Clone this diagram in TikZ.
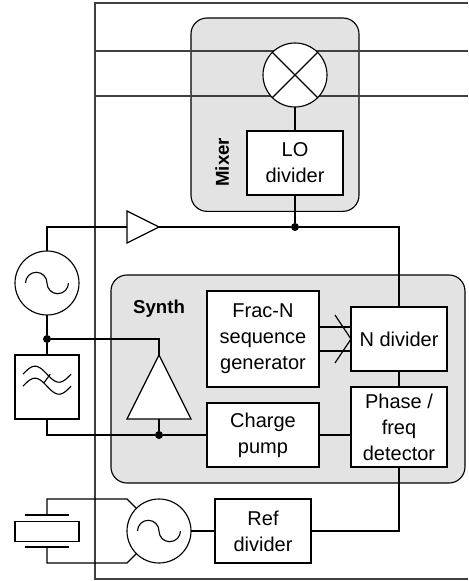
\documentclass[tikz,border=0pt]{standalone}
\usepackage{fontspec}
\setmainfont{Liberation Sans}
\usetikzlibrary{positioning}

\newcommand{\sinewave}[1]{\draw[wire] (#1) ++(-1.34,0) arc[start angle=180, end angle=360, radius=0.67] arc[start angle=180, end angle=0, radius=0.67];}

\begin{document}
\begin{tikzpicture}[
    x=12pt, y=-12pt,
    wire/.style={line width=0.85pt},
    rail/.style={line width=1.1pt, black!75},
    box/.style={draw, wire, fill=white, inner sep=0pt, outer sep=0pt, align=center, font=\fontsize{15}{19.5}\selectfont},
    group/.style={draw, wire, fill=black!11, rounded corners=12pt, inner sep=0pt, outer sep=0pt},
    round/.style={draw, wire, circle, fill=white, minimum size=48pt, inner sep=0pt, outer sep=0pt},
    lbl/.style={font=\fontsize{14}{16}\selectfont\bfseries},
    dot/.style={circle, fill=black, minimum size=6pt, inner sep=0pt},
]
\useasboundingbox (0.0625,-0.1875) rectangle (29.3125,36.125);

% Groups
\node[group, minimum width=126pt, minimum height=145pt] (mixergroup) at (17.25,6.98) {};
\node[group, minimum width=265.5pt, minimum height=156pt] (synthgroup) at (18.06,23.5) {};

% Chip outline and RF lines
\coordinate (topright) at (29.3125,0);
\coordinate (botright) at (29.3125,36);
\coordinate (rfa) at (6,3);
\coordinate (rfb) at (6,5.8);
\draw[rail] (topright) -- (6,0) -- (6,36) -- (botright);
\draw[rail] (rfa) -- (rfa -| topright);
\draw[rail] (rfb) -- (rfb -| topright);

% Mixer
\node[round] (mix) at (18.5,4.5) {};
\node[box, minimum width=72pt, minimum height=48pt, below=42pt of mix.center] (lodiv) {LO\\divider};
\node[lbl, rotate=90] (mixerlbl) at (13.95,9.95) {Mixer};
\draw[wire] (mix.135) -- (mix.315) (mix.45) -- (mix.225);

% Synth blocks
\node[box, minimum width=84pt, minimum height=72pt] (frac) at (16.5,21) {Frac-N\\sequence\\generator};
\node[box, minimum width=84pt, minimum height=48pt, below=12pt of frac] (pump) {Charge\\pump};
\node[box, minimum width=72pt, minimum height=48pt] (ndiv) at (25,21) {N divider};
\node[box, minimum width=72pt, minimum height=60pt, below=12pt of ndiv] (pfd) {Phase /\\freq\\detector};
\node[lbl] (synthlbl) at (10,19.1) {Synth};

% Off-chip oscillator, filter and crystal
\node[round] (vco) at (3,17.5) {};
\node[box, minimum size=48pt, below=54pt of vco.center] (filter) {};
\node[round] (xosc) at (10,33) {};
\node[box, minimum width=72pt, minimum height=48pt] (refdiv) at (16.5,33) {Ref\\divider};
\node[box, minimum width=48pt, minimum height=15pt] (xtal) at (3,33.05) {};
\sinewave{vco}
\sinewave{xosc}
\foreach \off in {-0.8,-0.05}
    \draw[wire] plot[domain=-1.5:1.5, samples=30, smooth] ({3+\x}, {24+\off-0.5*sin(120*(\x+1.5))});
\draw[wire] (2.8,23.75) -- (3.2,23.2);

% Buffer and amplifier
\draw[wire, fill=white] (8,13) -- (10,14) -- (8,15) -- cycle;
\draw[wire, fill=white] (10,22) -- (12,26) -- (8,26) -- cycle;
\coordinate (bufin) at (8,14);
\coordinate (bufout) at (10,14);
\coordinate (ampin) at (10,22);
\coordinate (ampout) at (10,26);

% Dots
\node[dot] (lodot) at (18.5,14) {};
\node[dot] (vcodot) at (3,21) {};
\node[dot] (pumpdot) at (10,27) {};

% Connectors
\draw[wire] (mix) -- (lodiv);
\draw[wire] (lodiv) -- (lodot);
\draw[wire] (vco) -- (vco |- bufin) -- (bufin);
\draw[wire] (bufout) -- (lodot) -- (ndiv |- lodot) -- (ndiv);
\draw[wire] (vco) -- (vcodot) -- (filter);
\draw[wire] (vcodot) -- (vcodot -| ampin) -- (ampin);
\draw[wire] (filter) -- (filter |- pumpdot) -- (pumpdot) -- (pump);
\draw[wire] (ampout) -- (pumpdot);
\draw[wire] (pump) -- (pump -| pfd.west);
\draw[wire] (ndiv) -- (pfd);
\draw[wire] ([yshift=9pt]frac.east) -- ([yshift=9pt]ndiv.west);
\draw[wire] ([yshift=-9pt]frac.east) -- ([yshift=-9pt]ndiv.west);
\draw[wire] (21,19.5) -- (ndiv.west) -- (21,22.5);
\draw[wire] (pfd) -- (pfd |- refdiv) -- (refdiv);
\draw[wire] (xosc) -- (refdiv);

% Crystal plates and leads
\coordinate (plateup) at (3,32);
\coordinate (platedn) at (3,34);
\draw[wire] (1.65,32) -- (4.35,32) (1.65,34) -- (4.35,34);
\draw[wire] (plateup) -- (3,31) -- (8,31) -- (xosc.135);
\draw[wire] (platedn) -- (3,35) -- (8,35) -- (xosc.225);
\end{tikzpicture}
\end{document}
